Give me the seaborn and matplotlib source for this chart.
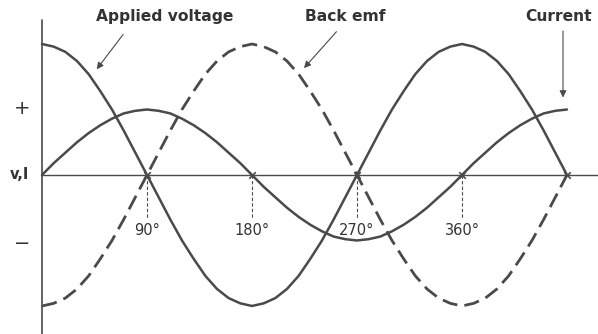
import numpy as np
import pandas as pd
import matplotlib.pyplot as plt
import seaborn as sns

angle = list(range(0, 451, 10))
applied_voltage = [1.00, 0.98, 0.94, 0.87, 0.77, 0.64, 0.50, 0.34, 0.17, 0.00,
                   -0.17, -0.34, -0.50, -0.64, -0.77, -0.87, -0.94, -0.98, -1.00,
                   -0.98, -0.94, -0.87, -0.77, -0.64, -0.50, -0.34, -0.17, 0.00,
                   0.17, 0.34, 0.50, 0.64, 0.77, 0.87, 0.94, 0.98, 1.00,
                   0.98, 0.94, 0.87, 0.77, 0.64, 0.50, 0.34, 0.17, 0.00]
back_emf = [-1.00, -0.98, -0.94, -0.87, -0.77, -0.64, -0.50, -0.34, -0.17, 0.00,
            0.17, 0.34, 0.50, 0.64, 0.77, 0.87, 0.94, 0.98, 1.00,
            0.98, 0.94, 0.87, 0.77, 0.64, 0.50, 0.34, 0.17, 0.00,
            -0.17, -0.34, -0.50, -0.64, -0.77, -0.87, -0.94, -0.98, -1.00,
            -0.98, -0.94, -0.87, -0.77, -0.64, -0.50, -0.34, -0.17, 0.00]
current = [0.00, 0.09, 0.17, 0.25, 0.32, 0.38, 0.43, 0.47, 0.49, 0.50,
           0.49, 0.47, 0.43, 0.38, 0.32, 0.25, 0.17, 0.09, 0.00,
           -0.09, -0.17, -0.25, -0.32, -0.38, -0.43, -0.47, -0.49, -0.50,
           -0.49, -0.47, -0.43, -0.38, -0.32, -0.25, -0.17, -0.09, 0.00,
           0.09, 0.17, 0.25, 0.32, 0.38, 0.43, 0.47, 0.49, 0.50]
tick_angles = [90, 180, 270, 360]
tick_labels = ["90°", "180°", "270°", "360°"]
zero_points = [90, 180, 270, 360, 450]

df = pd.DataFrame({"angle": angle, "Applied voltage": applied_voltage,
                   "Back emf": back_emf, "Current": current})

sns.set_style("white")
plt.rcParams["font.family"] = ["DejaVu Sans"]
ink = "#4a4a4a"
txt = "#333333"

fig = plt.figure(figsize=(5.98, 3.34), dpi=100)
ax = fig.add_axes([0, 0, 1, 1])

sns.lineplot(data=df, x="angle", y="Applied voltage", ax=ax, color=ink, lw=1.8)
sns.lineplot(data=df, x="angle", y="Current", ax=ax, color=ink, lw=1.8)
sns.lineplot(data=df, x="angle", y="Back emf", ax=ax, color=ink, lw=2.0,
             dashes=False, linestyle=(0, (5.5, 2.6)))

# axes lines
ax.axhline(0, xmin=0.07, color=ink, lw=1.0)
ax.axvline(0, ymin=0, ymax=0.94, color=ink, lw=1.2)

# crossing marks and dashed drop lines
ax.scatter(zero_points, [0] * len(zero_points), marker="x", s=22, color=ink, lw=1.2, zorder=5)
for a, lab in zip(tick_angles, tick_labels):
    ax.plot([a, a], [0, -0.33], color=ink, lw=0.8, ls=(0, (3, 2)))
    ax.text(a, -0.42, lab, ha="center", va="center", fontsize=10.5, color=txt)

ax.text(-17, 0.51, "+", ha="center", va="center", fontsize=14, color=txt)
ax.text(-17, -0.52, "−", ha="center", va="center", fontsize=14, color=txt)
ax.text(-19, 0.0, "v,I", ha="center", va="center", fontsize=10.5, color=txt,
        fontweight="bold")

# labels and pointer arrows
arrow = dict(arrowstyle="-|>", color=ink, lw=0.8, mutation_scale=10)
lab_kw = dict(ha="center", va="center", fontsize=11.2, color=txt, fontweight="bold")
ax.text(105, 1.21, "Applied voltage", **lab_kw)
ax.text(260, 1.21, "Back emf", **lab_kw)
ax.text(443, 1.21, "Current", **lab_kw)
ax.annotate("", xy=(45.4, 0.79), xytext=(71, 1.09), arrowprops=arrow)
ax.annotate("", xy=(223, 0.80), xytext=(254, 1.11), arrowprops=arrow)
ax.annotate("", xy=(446.6, 0.57), xytext=(446.6, 1.12), arrowprops=arrow)

ax.set_xlim(-36, 476.6)
ax.set_ylim(-1.214, 1.336)
ax.axis("off")

fig.savefig("out.png", dpi=100)
